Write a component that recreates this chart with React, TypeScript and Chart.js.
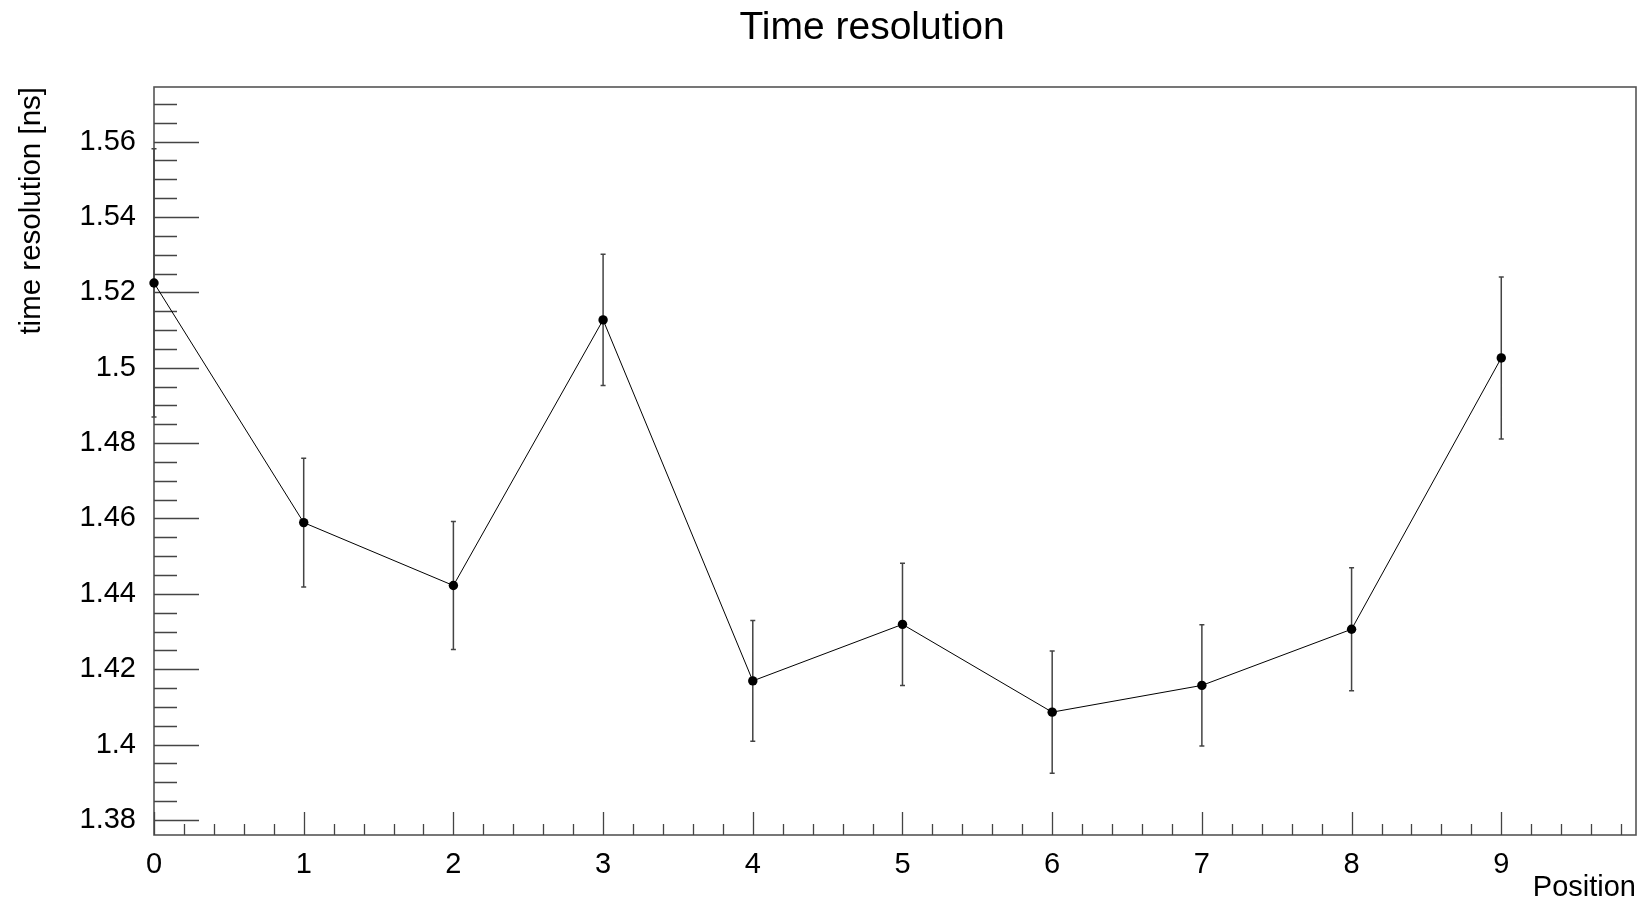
import React, { useEffect, useRef } from "react";
import { Chart, registerables } from "chart.js";

Chart.register(...registerables);

const FONT = "'Liberation Sans', Arial, Helvetica, sans-serif";

const TITLE = "Time resolution";
const X_TITLE = "Position";
const Y_TITLE = "time resolution [ns]";

const POSITIONS = [0, 1, 2, 3, 4, 5, 6, 7, 8, 9];
const RESOLUTION = [1.5225, 1.4589, 1.4422, 1.5127, 1.4169, 1.4319, 1.4086, 1.4157, 1.4306, 1.5026];
const RESOLUTION_ERR = [0.0356, 0.0171, 0.017, 0.0174, 0.016, 0.0162, 0.0162, 0.0161, 0.0163, 0.0215];

const X_TICKS = [0, 1, 2, 3, 4, 5, 6, 7, 8, 9];
const X_TICK_LABELS = ["0", "1", "2", "3", "4", "5", "6", "7", "8", "9"];
const Y_TICKS = [1.38, 1.4, 1.42, 1.44, 1.46, 1.48, 1.5, 1.52, 1.54, 1.56];
const Y_TICK_LABELS = ["1.38", "1.4", "1.42", "1.44", "1.46", "1.48", "1.5", "1.52", "1.54", "1.56"];

const X_MIN = 0;
const X_MAX = 9.9;
const Y_MIN = 1.376;
const Y_MAX = 1.5745;
const X_MINOR_STEP = 0.2;
const Y_MINOR_STEP = 0.005;

const rootStyle = {
  id: "rootStyle",
  beforeDatasetsDraw(chart: any) {
    const { ctx, chartArea } = chart;
    const xs = chart.scales.x;
    const ys = chart.scales.y;
    ctx.save();
    // frame
    ctx.strokeStyle = "#555";
    ctx.lineWidth = 1.6;
    ctx.strokeRect(chartArea.left, chartArea.top, chartArea.right - chartArea.left, chartArea.bottom - chartArea.top);

    // y ticks (inside, from left axis)
    ctx.lineWidth = 1.3;
    ctx.strokeStyle = "#444";
    const yk0 = Math.ceil(Y_MIN / Y_MINOR_STEP - 1e-6);
    const yk1 = Math.floor(Y_MAX / Y_MINOR_STEP + 1e-6);
    ctx.beginPath();
    for (let k = yk0; k <= yk1; k++) {
      const v = k * Y_MINOR_STEP;
      const major = Y_TICKS.some((t) => Math.abs(t - v) < 1e-6);
      const py = Math.round(ys.getPixelForValue(v)) + 0.5;
      ctx.moveTo(chartArea.left, py);
      ctx.lineTo(chartArea.left + (major ? 45 : 23), py);
    }
    // x ticks (inside, from bottom axis)
    const xk0 = Math.ceil(X_MIN / X_MINOR_STEP - 1e-6);
    const xk1 = Math.floor(X_MAX / X_MINOR_STEP + 1e-6);
    for (let k = xk0; k <= xk1; k++) {
      const v = k * X_MINOR_STEP;
      const major = X_TICKS.some((t) => Math.abs(t - v) < 1e-6);
      const px = Math.round(xs.getPixelForValue(v)) + 0.5;
      ctx.moveTo(px, chartArea.bottom);
      ctx.lineTo(px, chartArea.bottom - (major ? 23 : 11));
    }
    ctx.stroke();

    // error bars
    ctx.strokeStyle = "#444";
    ctx.lineWidth = 1.5;
    ctx.beginPath();
    RESOLUTION.forEach((v, i) => {
      const px = xs.getPixelForValue(POSITIONS[i]);
      const top = ys.getPixelForValue(v + RESOLUTION_ERR[i]);
      const bot = ys.getPixelForValue(v - RESOLUTION_ERR[i]);
      ctx.moveTo(px, top);
      ctx.lineTo(px, bot);
      ctx.moveTo(px - 2.5, top);
      ctx.lineTo(px + 2.5, top);
      ctx.moveTo(px - 2.5, bot);
      ctx.lineTo(px + 2.5, bot);
    });
    ctx.stroke();
    ctx.restore();
  },
  afterDraw(chart: any) {
    const { ctx } = chart;
    ctx.save();
    ctx.fillStyle = "#000";
    ctx.font = `39px ${FONT}`;
    ctx.textAlign = "center";
    ctx.textBaseline = "alphabetic";
    ctx.fillText(TITLE, 872, 39);
    ctx.restore();
  },
};

export default function App() {
  const ref = useRef<HTMLCanvasElement | null>(null);

  useEffect(() => {
    if (!ref.current) return;
    const chart = new Chart(ref.current, {
      type: "line",
      data: {
        datasets: [
          {
            label: TITLE,
            data: POSITIONS.map((x, i) => ({ x, y: RESOLUTION[i] })),
            borderColor: "#000",
            borderWidth: 1,
            pointRadius: 4.7,
            pointHoverRadius: 4.7,
            pointBackgroundColor: "#000",
            pointBorderWidth: 0,
            tension: 0,
            clip: false as any,
          },
        ],
      },
      options: {
        animation: false,
        responsive: false,
        devicePixelRatio: 1,
        layout: { padding: { left: 0, top: 87, right: 9, bottom: 0 } },
        plugins: {
          legend: { display: false },
          tooltip: { enabled: false },
          title: { display: false },
        },
        scales: {
          x: {
            type: "linear",
            min: X_MIN,
            max: X_MAX,
            afterBuildTicks: (s: any) => {
              s.ticks = X_TICKS.map((v) => ({ value: v }));
            },
            afterFit: (s: any) => {
              s.height = 72;
            },
            grid: { display: false },
            border: { display: false },
            ticks: {
              autoSkip: false,
              maxRotation: 0,
              padding: 4.3,
              color: "#000",
              font: { family: FONT, size: 29 },
              callback: (v: any) => X_TICK_LABELS[X_TICKS.findIndex((t) => Math.abs(t - v) < 1e-9)],
            },
            title: {
              display: true,
              text: X_TITLE,
              align: "end",
              color: "#000",
              font: { family: FONT, size: 29 },
              padding: { top: 0, bottom: 1.9 },
            },
          },
          y: {
            type: "linear",
            min: Y_MIN,
            max: Y_MAX,
            afterBuildTicks: (s: any) => {
              s.ticks = Y_TICKS.map((v) => ({ value: v }));
            },
            afterFit: (s: any) => {
              s.width = 154;
            },
            grid: { display: false },
            border: { display: false },
            ticks: {
              autoSkip: false,
              padding: 10,
              color: "#000",
              font: { family: FONT, size: 29 },
              callback: (v: any) => Y_TICK_LABELS[Y_TICKS.findIndex((t) => Math.abs(t - v) < 1e-9)],
            },
            title: {
              display: true,
              text: Y_TITLE,
              align: "end",
              color: "#000",
              font: { family: FONT, size: 29.5 },
              padding: { top: 14, bottom: 0 },
            },
          },
        },
      },
      plugins: [rootStyle],
    });
    return () => chart.destroy();
  }, []);

  return (
    <div style={{ position: "fixed", left: 0, top: 0, width: 1645, height: 907, background: "#fff" }}>
      <canvas ref={ref} width={1645} height={907} style={{ width: 1645, height: 907, display: "block" }} />
    </div>
  );
}
